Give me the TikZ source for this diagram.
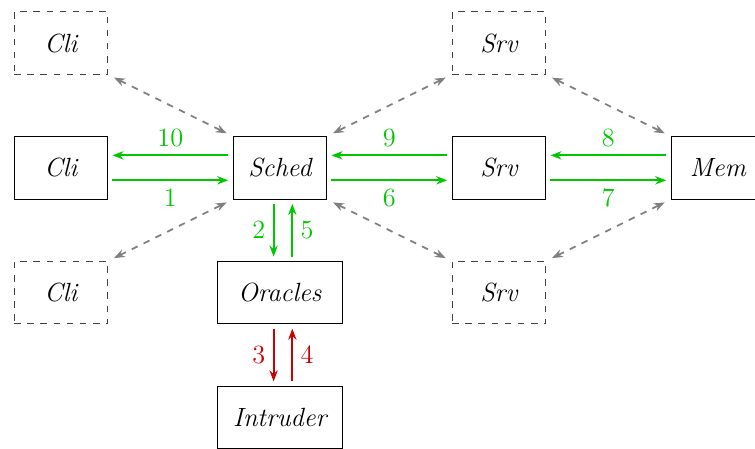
\documentclass[tikz,border=0pt]{standalone}
\usepackage{tikz}
\usetikzlibrary{
  arrows.meta,
  positioning,
}
\definecolor{msggreen}{RGB}{0,200,0}
\definecolor{msgred}{RGB}{204,0,0}

\begin{document}
\begin{tikzpicture}[
  agent/.style={
    draw, minimum width=1.5cm, minimum height=1cm, font=\large\itshape,
  },
  ghost/.style={
    agent, dashed, draw=black!75,
  },
  msg/.style={
    draw=msggreen, -{Stealth[length=5pt]}, line width=0.9pt,
    shorten >=2pt, shorten <=2pt,
  },
  attack/.style={
    draw=msgred, -{Stealth[length=5pt]}, line width=0.9pt,
    shorten >=2pt, shorten <=2pt,
  },
  link/.style={
    draw=gray, dashed, {Stealth[length=5pt]}-{Stealth[length=5pt]}, thick,
    shorten >=3pt, shorten <=3pt,
  },
  num/.style={
    font=\large, text=msggreen,
  },
]
  \useasboundingbox (-4.485,-4.505) rectangle (7.615,2.69);

  % Agents
  \node[agent] (cli) at (-3.51,0) {Cli};
  \node[agent] (sched) at (0,0) {Sched};
  \node[agent] (srv) at (3.51,0) {Srv};
  \node[agent] (mem) at (7.02,0) {Mem};
  \node[agent, minimum width=2cm] (oracles) at (0,-2) {Oracles};
  \node[agent, minimum width=2cm] (intruder) at (0,-4) {Intruder};

  % Other instances
  \node[ghost] (cliup) at (-3.51,2) {Cli};
  \node[ghost] (clidown) at (-3.51,-2) {Cli};
  \node[ghost] (srvup) at (3.51,2) {Srv};
  \node[ghost] (srvdown) at (3.51,-2) {Srv};

  % Messages
  \draw[msg] ([yshift=-0.2cm]cli.east) -- node[num,below] {1} ([yshift=-0.2cm]sched.west);
  \draw[msg] ([yshift=0.2cm]sched.west) -- node[num,above] {10} ([yshift=0.2cm]cli.east);
  \draw[msg] ([xshift=-0.1cm]sched.south) -- node[num,left] {2} ([xshift=-0.1cm]oracles.north);
  \draw[msg] ([xshift=0.2cm]oracles.north) -- node[num,right] {5} ([xshift=0.2cm]sched.south);
  \draw[attack] ([xshift=-0.1cm]oracles.south) -- node[num,left,text=msgred] {3} ([xshift=-0.1cm]intruder.north);
  \draw[attack] ([xshift=0.2cm]intruder.north) -- node[num,right,text=msgred] {4} ([xshift=0.2cm]oracles.south);
  \draw[msg] ([yshift=-0.2cm]sched.east) -- node[num,below] {6} ([yshift=-0.2cm]srv.west);
  \draw[msg] ([yshift=-0.2cm]srv.east) -- node[num,below] {7} ([yshift=-0.2cm]mem.west);
  \draw[msg] ([yshift=0.2cm]mem.west) -- node[num,above] {8} ([yshift=0.2cm]srv.east);
  \draw[msg] ([yshift=0.2cm]srv.west) -- node[num,above] {9} ([yshift=0.2cm]sched.east);

  % Links to other instances
  \draw[link] (cliup.south east) -- (sched.north west);
  \draw[link] (clidown.north east) -- (sched.south west);
  \draw[link] (srvup.south west) -- (sched.north east);
  \draw[link] (srvdown.north west) -- (sched.south east);
  \draw[link] (srvup.south east) -- (mem.north west);
  \draw[link] (srvdown.north east) -- (mem.south west);
\end{tikzpicture}
\end{document}
